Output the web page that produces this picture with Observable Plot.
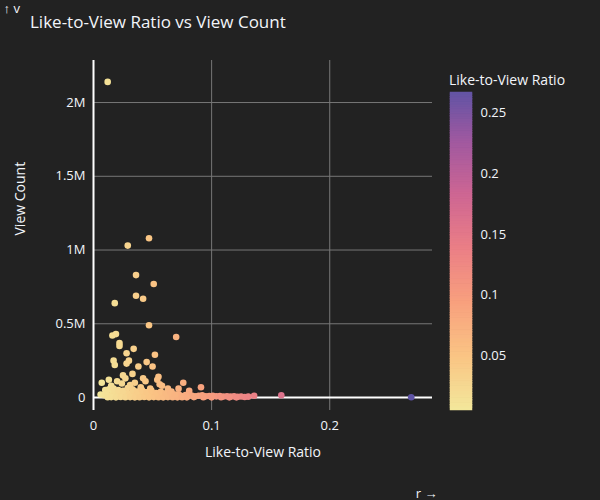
<!DOCTYPE html>
<html><head><meta charset="utf-8">
<script src="https://cdn.jsdelivr.net/npm/d3@7"></script>
<script src="https://cdn.jsdelivr.net/npm/@observablehq/plot@0.6"></script>
<style>
body{margin:0;background:#222;font-family:"Open Sans",sans-serif;}
#wrap{position:relative;width:600px;height:500px;background:#222;overflow:hidden}
#title{position:absolute;left:30px;top:10px;color:#f2f5fa;font-size:17px;z-index:5}
#plot,#bar{position:absolute;top:0}
#plot{left:0}#bar{left:440px}
#ltitle{position:absolute;left:449px;top:70px;color:#f2f5fa;font-size:14px;z-index:5}
</style></head><body>
<div id="wrap"><div id="title">Like-to-View Ratio vs View Count</div><div id="plot"></div><div id="bar"></div><div id="ltitle">Like-to-View Ratio</div></div>
<script>
// ratio / views (views in units)
const ratio = [0.012,0.029,0.047,0.036,0.051,0.036,0.042,0.018,0.047,0.070,0.016,0.019,0.022,0.022,0.034,0.052,0.028,0.030,0.017,0.018,0.038,0.028,0.045,0.050,0.076,0.091,0.055,0.007,0.013,0.025,0.033,0.042,0.054,0.056,0.063,0.010,0.015,0.020,0.024,0.027,0.031,0.035,0.040,0.044,0.048,0.058,0.066,0.072,0.081,
0.006,0.009,0.011,0.014,0.016,0.018,0.020,0.022,0.024,0.026,0.028,0.030,0.032,0.034,0.036,0.038,0.040,0.042,0.044,0.046,0.048,0.050,0.052,0.054,0.056,0.058,0.060,0.062,0.064,0.066,0.068,0.070,0.072,0.074,0.076,0.078,0.080,0.083,0.086,0.089,0.092,0.095,0.098,0.101,0.104,0.107,0.110,0.113,0.116,0.119,0.122,0.125,0.128,0.131,0.136,0.159,0.269,
0.012,0.015,0.019,0.023,0.027,0.031,0.035,0.039,0.043,0.047,0.051,0.055,0.059,0.063,0.067,0.071,0.075,0.079,0.085,0.093,0.100,0.108,0.115,0.121,0.013,0.017,0.021,0.025,0.029,0.033,0.037,0.041,0.045,0.049,0.053,0.057,0.061,0.065,0.069];
const views = [2140000,1030000,1080000,830000,770000,690000,670000,640000,490000,410000,420000,430000,370000,350000,330000,290000,300000,250000,250000,220000,210000,230000,240000,210000,100000,70000,140000,100000,120000,150000,160000,130000,120000,90000,60000,50000,80000,110000,95000,130000,85000,100000,70000,110000,60000,80000,40000,60000,45000,
20000,15000,30000,10000,25000,35000,12000,40000,20000,30000,15000,25000,8000,45000,20000,10000,30000,18000,35000,12000,22000,28000,10000,16000,30000,12000,20000,8000,25000,14000,18000,10000,22000,12000,9000,16000,11000,14000,8000,12000,15000,9000,10000,12000,8000,10000,7000,9000,6000,8000,5000,7000,4000,6000,12000,15000,2000,
2000,3000,1000,4000,2000,3000,1000,2000,4000,1000,3000,2000,1000,3000,2000,1000,2000,1000,3000,2000,1000,2000,1000,1000,55000,60000,50000,45000,65000,55000,40000,50000,35000,48000,30000,38000,28000,32000,20000];
const sunset = ["rgb(243,231,155)","rgb(250,196,132)","rgb(248,160,126)","rgb(235,127,134)","rgb(206,102,147)","rgb(160,89,160)","rgb(92,83,165)"];
const cDomain = [0.005, 0.27];
const barStops = d3.range(0.005, 0.267, 0.002);

const data = ratio.map((r, i) => ({r, v: views[i]}));
const colorOpt = {type: "linear", domain: cDomain, interpolate: d3.piecewise(d3.interpolateRgb, sunset)};
const fmtM = d => d === 0 ? "0" : (d / 1e6) + "M";

const plot = Plot.plot({
  width: 440, height: 500,
  marginLeft: 93, marginRight: 8, marginTop: 60, marginBottom: 90,
  style: {background: "#222", color: "#f2f5fa", fontSize: "13px", fontFamily: "Open Sans"},
  x: {domain: [0, 0.287]},
  y: {domain: [-88000, 2285000]},
  color: colorOpt,
  marks: [
    Plot.gridX([0.1, 0.2], {stroke: "#777", strokeOpacity: 1}),
    Plot.gridY([500000, 1000000, 1500000, 2000000], {stroke: "#777", strokeOpacity: 1}),
    Plot.ruleX([0], {stroke: "#fff", strokeWidth: 2}),
    Plot.ruleY([0], {stroke: "#fff", strokeWidth: 2}),
    Plot.dot(data, {x: "r", y: "v", fill: "r", r: 3.3, fillOpacity: 1}),
    Plot.axisX({ticks: [0, 0.1, 0.2], tickFormat: d => d === 0 ? "0" : d, tickSize: 0, tickPadding: 10}),
    Plot.axisY({ticks: [0, 500000, 1000000, 1500000, 2000000], tickFormat: fmtM, tickSize: 0, tickPadding: 8}),
    Plot.text(["Like-to-View Ratio"], {frameAnchor: "bottom", dy: 46, fontSize: 14, fill: "#f2f5fa"}),
    Plot.text(["View Count"], {frameAnchor: "left", dx: -73, rotate: -90, fontSize: 14, fill: "#f2f5fa"})
  ]
});
document.getElementById("plot").appendChild(plot);

const bar = Plot.plot({
  width: 150, height: 500,
  marginLeft: 10, marginRight: 118, marginTop: 92, marginBottom: 90,
  style: {background: "transparent", color: "#f2f5fa", fontSize: "13px", fontFamily: "Open Sans"},
  x: {domain: [0, 1], axis: null},
  y: {domain: [0.005, 0.267], label: null, axis: null},
  color: colorOpt,
  marks: [
    Plot.rect(barStops, {x1: 0, x2: 1, y1: d => d, y2: d => Math.min(d + 0.0025, 0.267), fill: d => d, inset: 0, stroke: d => d, strokeWidth: 0.5}),
    Plot.axisY({anchor: "right", ticks: [0.05, 0.1, 0.15, 0.2, 0.25], tickFormat: d => d, tickSize: 0, tickPadding: 8, label: null})
  ]
});
document.getElementById("bar").appendChild(bar);
</script></body></html>
